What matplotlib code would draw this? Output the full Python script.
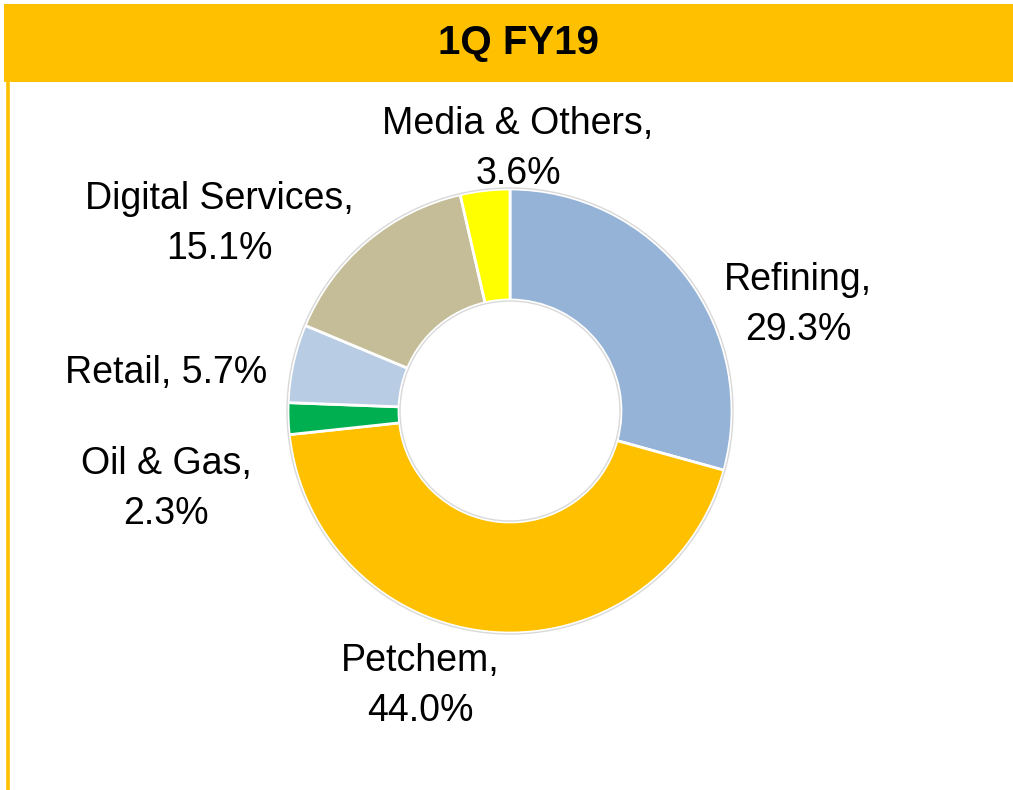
import matplotlib.pyplot as plt
from matplotlib.patches import Rectangle, Circle

# segment share, 1Q FY19 (clockwise from 12 o'clock)
segments = ['Refining', 'Petchem', 'Oil & Gas', 'Retail', 'Digital Services', 'Media & Others']
shares = [29.3, 44.0, 2.3, 5.7, 15.1, 3.6]
colors = ['#95B3D7', '#FFC000', '#00B050', '#B8CCE4', '#C4BD97', '#FFFF00']
title = '1Q FY19'

# label layout (pixel positions, y from the top) and line breaks
label_pos = [(798, 305), (420, 686), (166, 489), (166, 373), (219, 224), (518, 149)]
label_split = [True, True, True, False, True, True]

W, H = 1013, 790


def flip(y):
    return H - y


fig = plt.figure(figsize=(W / 100, H / 100), dpi=100)
ax = fig.add_axes([0, 0, 1, 1])
ax.set_xlim(0, W)
ax.set_ylim(0, H)
ax.set_aspect('equal')
ax.axis('off')

# title bar and left border
ax.add_patch(Rectangle((4, flip(82)), W - 4, 78, facecolor='#FFC000', edgecolor='none'))
ax.plot([8, 8], [0, flip(82)], color='#FFC000', lw=2.6, solid_capstyle='butt')
ax.text(518, flip(43), title, ha='center', va='center', fontsize=29,
        fontweight='bold', family='Liberation Sans')

cx, cy, r = 510, flip(411), 222
ax.pie(shares, colors=colors, startangle=90, counterclock=False,
       center=(cx, cy), radius=r, frame=True,
       wedgeprops=dict(width=r * 0.5, edgecolor='white', linewidth=2))
ax.set_xlim(0, W)
ax.set_ylim(0, H)
ax.axis('off')
ax.add_patch(Circle((cx, cy), r + 1, fill=False, edgecolor='#D9D9D9', lw=1))
ax.add_patch(Circle((cx, cy), r * 0.5 - 1, fill=False, edgecolor='#D9D9D9', lw=1))

for name, val, (x, y), split in zip(segments, shares, label_pos, label_split):
    sep = '\n' if split else ' '
    ax.text(x, flip(y), f'{name},{sep}{val:.1f}%', ha='center', va='center',
            fontsize=27, family='Liberation Sans', linespacing=1.5)

fig.savefig('out.png', dpi=100)
